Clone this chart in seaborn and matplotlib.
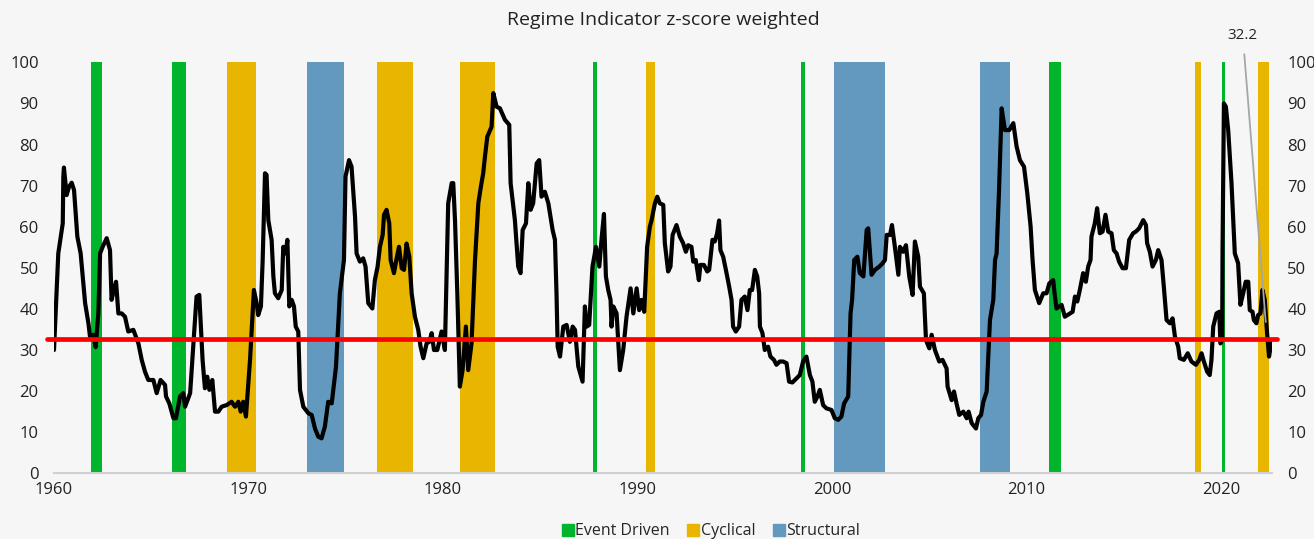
import matplotlib
matplotlib.use("Agg")
import matplotlib.pyplot as plt
from matplotlib.lines import Line2D
import seaborn as sns

# regime indicator (decimal year, score)
years = [
    1960.0, 1960.22, 1960.45, 1960.48, 1960.51, 1960.65, 1960.77, 1960.91, 1961.03, 1961.2,
    1961.37, 1961.6, 1961.77, 1961.85, 1962.02, 1962.14, 1962.28, 1962.37, 1962.5, 1962.71,
    1962.88, 1962.96, 1963.08, 1963.19, 1963.31, 1963.48, 1963.65, 1963.82, 1964.08, 1964.34,
    1964.51, 1964.68, 1964.85, 1965.11, 1965.28, 1965.48, 1965.71, 1965.76, 1965.93, 1966.14,
    1966.27, 1966.48, 1966.65, 1966.74, 1967.0, 1967.16, 1967.33, 1967.47, 1967.64, 1967.76,
    1967.88, 1967.99, 1968.14, 1968.28, 1968.45, 1968.62, 1968.88, 1969.13, 1969.31, 1969.48,
    1969.6, 1969.73, 1969.87, 1970.08, 1970.28,
    1970.42, 1970.5, 1970.64, 1970.73, 1970.85, 1970.93, 1971.02, 1971.19, 1971.28, 1971.36,
    1971.53, 1971.71, 1971.79, 1971.91, 1972.0, 1972.1, 1972.22, 1972.34, 1972.43, 1972.56,
    1972.65, 1972.82, 1973.08, 1973.25, 1973.42, 1973.59, 1973.76, 1973.93, 1974.1, 1974.28,
    1974.5, 1974.7, 1974.91, 1974.99, 1975.17, 1975.3, 1975.48, 1975.56, 1975.73, 1975.9,
    1976.02, 1976.16, 1976.37, 1976.5, 1976.64, 1976.76, 1976.9, 1976.97, 1977.1, 1977.24,
    1977.31, 1977.48, 1977.62, 1977.74, 1977.88, 1978.0, 1978.13, 1978.27, 1978.39, 1978.56,
    1978.73, 1978.85, 1978.99, 1979.16, 1979.3, 1979.42, 1979.54, 1979.71, 1979.93, 1980.1,
    1980.27, 1980.45,
    1980.53, 1980.62, 1980.74, 1980.87, 1981.01, 1981.18, 1981.3, 1981.47, 1981.65, 1981.82,
    1981.95, 1982.07, 1982.16, 1982.28, 1982.5, 1982.59, 1982.76, 1982.93, 1983.19, 1983.41,
    1983.48, 1983.7, 1983.87, 1983.99, 1984.1, 1984.27, 1984.39, 1984.51, 1984.64, 1984.82,
    1984.95, 1985.07, 1985.24, 1985.42, 1985.64, 1985.76, 1985.84, 1985.9, 1986.02, 1986.19,
    1986.36, 1986.53, 1986.67, 1986.79, 1986.96, 1987.18, 1987.3, 1987.39, 1987.52, 1987.69,
    1987.87, 1988.04, 1988.16, 1988.28, 1988.38, 1988.5, 1988.62, 1988.67, 1988.76, 1988.93,
    1989.1, 1989.27, 1989.44, 1989.65, 1989.79, 1989.96, 1990.09, 1990.21, 1990.35, 1990.5,
    1990.64,
    1990.73, 1990.9, 1991.02, 1991.15, 1991.33, 1991.41, 1991.58, 1991.7, 1991.81, 1992.01,
    1992.18, 1992.35, 1992.49, 1992.61, 1992.78, 1992.87, 1993.0, 1993.16, 1993.24, 1993.42,
    1993.59, 1993.69, 1993.86, 1993.98, 1994.1, 1994.2, 1994.27, 1994.41, 1994.55, 1994.72,
    1994.84, 1994.92, 1995.06, 1995.23, 1995.35, 1995.52, 1995.66, 1995.78, 1995.9, 1996.04,
    1996.16, 1996.26, 1996.3, 1996.43, 1996.55, 1996.72, 1996.84, 1997.02, 1997.15, 1997.32,
    1997.49, 1997.67, 1997.8, 1997.97, 1998.18, 1998.35, 1998.52, 1998.69, 1998.87, 1999.0,
    1999.12, 1999.26, 1999.38, 1999.55, 1999.72, 1999.98, 2000.15, 2000.32, 2000.49, 2000.63,
    2000.84, 2000.96, 2001.04, 2001.15,
    2001.31, 2001.44, 2001.62, 2001.79, 2001.87, 2002.04, 2002.22, 2002.44, 2002.61, 2002.73,
    2002.82, 2002.99, 2003.09, 2003.24, 2003.42, 2003.5, 2003.67, 2003.81, 2003.98, 2004.15,
    2004.27, 2004.44, 2004.53, 2004.73, 2004.84, 2005.01, 2005.13, 2005.3, 2005.52, 2005.69,
    2005.9, 2005.95, 2006.16, 2006.28, 2006.41, 2006.55, 2006.76, 2006.93, 2007.03, 2007.19,
    2007.41, 2007.53, 2007.67, 2007.79, 2007.96, 2008.13, 2008.3, 2008.39, 2008.47, 2008.59,
    2008.73, 2008.9, 2009.12, 2009.33, 2009.5, 2009.67, 2009.88, 2010.05, 2010.22, 2010.32,
    2010.44, 2010.66, 2010.87, 2011.04, 2011.18,
    2011.38, 2011.47, 2011.55, 2011.81, 2011.98, 2012.24, 2012.38, 2012.5, 2012.62, 2012.75,
    2012.92, 2013.06, 2013.18, 2013.3, 2013.35, 2013.52, 2013.64, 2013.78, 2013.92, 2014.07,
    2014.21, 2014.38, 2014.5, 2014.64, 2014.77, 2014.95, 2015.12, 2015.29, 2015.49, 2015.63,
    2015.8, 2016.01, 2016.15, 2016.21, 2016.35, 2016.49, 2016.66, 2016.78, 2016.95, 2017.07,
    2017.21, 2017.38, 2017.52, 2017.64, 2017.81, 2017.89, 2018.1, 2018.3, 2018.49, 2018.72,
    2018.89, 2019.01, 2019.13, 2019.3, 2019.43, 2019.52, 2019.61, 2019.78, 2019.92, 2019.98,
    2020.07, 2020.09, 2020.16, 2020.26, 2020.38, 2020.55, 2020.72, 2020.89, 2021.01, 2021.15,
    2021.28, 2021.41, 2021.49, 2021.63, 2021.7, 2021.83, 2021.92, 2022.04, 2022.14, 2022.26,
    2022.38, 2022.48, 2022.61,
]
score = [
    30.0, 53.5, 60.8, 72.2, 74.4, 67.7, 69.7, 70.7, 68.9, 57.6,
    53.5, 41.4, 36.5, 33.3, 33.7, 30.7, 38.9, 53.5, 55.1, 57.2,
    54.3, 42.2, 44.6, 46.6, 38.9, 38.9, 38.1, 34.5, 34.9, 31.6,
    27.6, 24.7, 22.7, 22.7, 19.5, 22.7, 21.5, 18.7, 17.0, 13.4,
    13.4, 18.7, 19.5, 16.2, 19.5, 30.8, 43.0, 43.4, 27.6, 20.7,
    23.5, 20.3, 22.7, 15.0, 15.0, 16.2, 16.6, 17.4, 16.2, 17.4,
    15.0, 17.4, 13.8, 27.6, 44.6,
    41.4, 38.5, 40.6, 51.9, 73.0, 72.6, 61.6, 56.8, 47.9, 43.8,
    42.6, 44.6, 55.1, 53.5, 56.8, 40.6, 42.2, 40.6, 35.7, 34.5,
    20.3, 16.2, 14.6, 14.2, 10.9, 8.9, 8.5, 11.4, 17.4, 17.0,
    25.9, 43.8, 51.9, 72.2, 76.2, 74.6, 62.4, 53.5, 51.5, 52.3,
    50.3, 41.4, 40.1, 47.0, 50.3, 55.1, 58.0, 62.9, 64.1, 60.8,
    51.9, 48.7, 52.3, 55.1, 49.9, 49.5, 55.9, 52.7, 43.8, 38.1,
    34.9, 30.8, 28.0, 31.6, 32.0, 34.1, 30.0, 30.0, 34.5, 30.0,
    65.7, 70.6,
    70.6, 61.6, 43.8, 21.1, 25.1, 35.7, 25.1, 31.6, 51.9, 65.7,
    69.7, 73.0, 77.0, 81.9, 84.3, 92.5, 89.2, 88.8, 86.0, 84.8,
    70.6, 61.6, 50.3, 48.7, 59.2, 60.8, 70.6, 64.1, 65.7, 75.4,
    76.2, 67.3, 68.5, 65.7, 59.2, 56.8, 43.8, 30.8, 28.4, 35.7,
    36.1, 32.0, 35.7, 34.9, 26.0, 22.3, 40.6, 35.7, 36.1, 50.3,
    55.1, 50.3, 57.2, 63.1, 47.9, 44.6, 42.2, 35.7, 40.6, 38.9,
    25.1, 30.0, 38.1, 45.0, 38.9, 45.0, 39.7, 42.2, 39.3, 55.1,
    60.0,
    61.6, 65.7, 67.3, 65.7, 65.3, 56.0, 49.1, 50.3, 58.0, 60.4,
    57.6, 56.0, 53.9, 55.5, 55.1, 51.5, 51.9, 47.0, 50.7, 50.7,
    49.1, 49.5, 56.8, 56.4, 58.4, 61.5, 54.3, 52.7, 49.5, 45.4,
    42.2, 35.7, 34.5, 35.7, 42.2, 43.0, 39.7, 44.6, 44.6, 49.5,
    47.9, 43.8, 35.7, 34.1, 30.0, 30.8, 28.4, 27.6, 26.4, 27.2,
    27.2, 26.8, 22.3, 22.1, 23.1, 23.9, 27.2, 28.4, 23.9, 22.3,
    17.4, 18.7, 20.3, 16.6, 15.8, 15.4, 13.4, 13.0, 13.8, 17.0,
    18.7, 38.9, 42.2, 51.9,
    52.7, 48.7, 47.9, 59.2, 59.6, 48.3, 49.5, 50.3, 51.1, 51.9,
    58.0, 58.0, 60.4, 55.1, 48.3, 55.1, 53.9, 55.5, 47.9, 43.4,
    56.4, 52.7, 45.4, 43.8, 32.4, 30.4, 33.7, 30.0, 27.2, 27.6,
    25.5, 21.1, 17.8, 19.9, 17.0, 14.2, 15.0, 13.4, 15.0, 12.2,
    10.9, 13.4, 14.2, 17.4, 19.9, 37.3, 42.2, 51.9, 53.5, 68.1,
    88.8, 83.5, 83.5, 85.2, 79.5, 76.2, 74.6, 68.1, 60.0, 51.9,
    44.6, 41.4, 43.8, 43.8, 46.2,
    47.0, 43.0, 40.1, 41.0, 38.1, 38.9, 39.3, 43.0, 41.8, 44.6,
    48.7, 46.6, 50.3, 51.9, 57.6, 60.8, 64.5, 58.4, 58.8, 62.9,
    58.8, 58.4, 54.3, 53.5, 51.5, 49.9, 49.9, 56.8, 58.4, 58.8,
    59.6, 61.6, 60.4, 56.0, 53.9, 50.3, 51.9, 54.3, 51.9, 45.4,
    37.3, 36.5, 37.7, 33.3, 30.8, 28.0, 27.6, 29.2, 27.2, 26.4,
    27.6, 29.2, 27.2, 24.7, 23.9, 27.6, 35.7, 38.9, 39.3, 31.6,
    32.4, 55.1, 90.0, 89.2, 83.5, 70.6, 53.5, 51.1, 41.0, 43.8,
    46.6, 46.6, 39.7, 39.3, 37.3, 36.5, 38.5, 38.9, 44.6, 42.2,
    34.1, 28.4, 32.2,
]

threshold = 32.7
last_label = "32.2"

# regime periods (start, end) in decimal years
event_driven = [(1961.9, 1962.45), (1966.05, 1966.8), (1987.73, 1987.93),
                (1998.39, 1998.61), (2011.14, 2011.77), (2020.05, 2020.19)]
cyclical = [(1968.9, 1970.4), (1976.6, 1978.45), (1980.87, 1982.7),
            (1990.44, 1990.88), (2018.65, 2018.96), (2021.92, 2022.47)]
structural = [(1973.0, 1974.9), (2000.12, 2002.74), (2007.64, 2009.17)]

regime_names = ["Event Driven", "Cyclical", "Structural"]
regime_colors = ["#00B52B", "#E8B500", "#6399BE"]

bg = "#F6F6F6"
sns.set_theme(style="white")
plt.rcParams["font.family"] = ["Open Sans", "DejaVu Sans"]

fig = plt.figure(figsize=(13.14, 5.39), dpi=100, facecolor=bg)
ax = fig.add_axes([0.0411, 0.1219, 0.9269, 0.7625])
ax.set_facecolor(bg)

for periods, col in zip([event_driven, cyclical, structural], regime_colors):
    for start, end in periods:
        ax.axvspan(start, end, ymin=0, ymax=1, color=col, lw=0, zorder=1)

sns.lineplot(x=years, y=score, color="black", linewidth=3.0, ax=ax, zorder=3)
ax.axhline(threshold, xmin=-0.006, xmax=1.004, color="#FF0000", lw=3.4,
           zorder=4, clip_on=False)

ax.set_xlim(1960, 2022.63)
ax.set_ylim(0, 100)
ax.set_xticks(range(1960, 2021, 10))
ax.set_yticks(range(0, 101, 10))
ax.tick_params(axis="x", colors="#D0D0D0", length=4, width=1, labelcolor="#222222",
               labelsize=12, pad=2)
ax.tick_params(axis="y", length=0, labelsize=12, labelcolor="#222222", pad=11,
               left=True, right=True, labelleft=True, labelright=True)
for side in ["top", "left", "right"]:
    ax.spines[side].set_visible(False)
ax.spines["bottom"].set_color("#D0D0D0")
ax.spines["bottom"].set_linewidth(1.5)
ax.set_xlabel("")
ax.set_ylabel("")

ax.annotate(last_label, xy=(2022.31, 36.8), xytext=(2021.13, 106.6),
            textcoords="data", ha="center", va="center", fontsize=11,
            color="#222222", annotation_clip=False,
            arrowprops=dict(arrowstyle="-", color="#A6A6A6", lw=1.3,
                            shrinkA=6, shrinkB=0))

fig.text(0.5045, 0.962, "Regime Indicator z-score weighted", ha="center",
         va="center", fontsize=14, color="#222222")

handles = [Line2D([], [], marker="s", linestyle="", markersize=8, color=c)
           for c in regime_colors]
fig.legend(handles, regime_names, loc="center", bbox_to_anchor=(0.541, 0.014),
           ncol=3, frameon=False, fontsize=11.5, handletextpad=0.05,
           columnspacing=1.1, handlelength=0.8)

fig.savefig("out.png", dpi=100, facecolor=bg)
